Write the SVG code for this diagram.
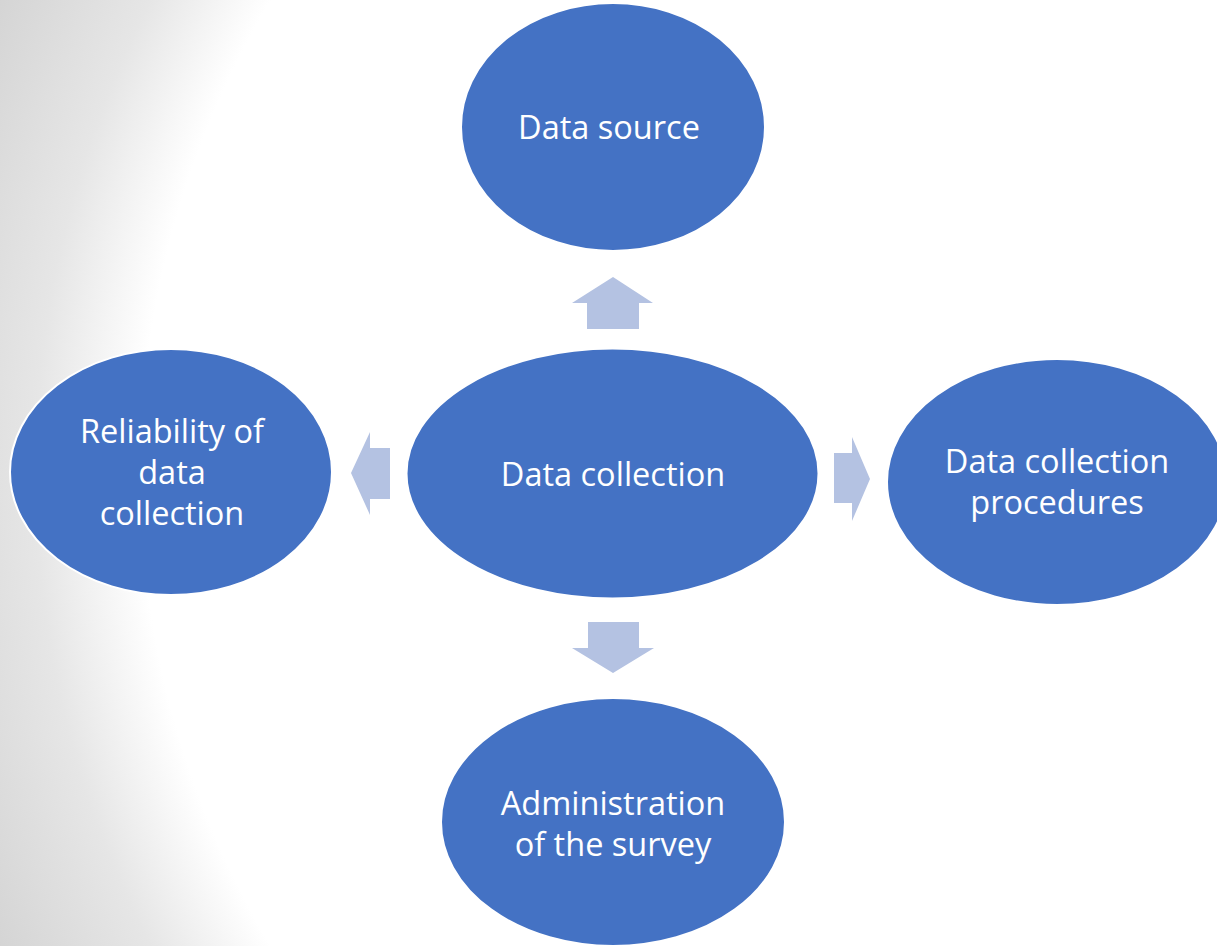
<svg xmlns="http://www.w3.org/2000/svg" width="1217" height="946" viewBox="0 0 1217 946">
<defs>
<radialGradient id="bg" gradientUnits="userSpaceOnUse" cx="1065" cy="473" r="1170">
<stop offset="0" stop-color="#ffffff"/>
<stop offset="0.79" stop-color="#ffffff"/>
<stop offset="0.88" stop-color="#e6e6e6"/>
<stop offset="1" stop-color="#d4d4d4"/>
</radialGradient>
<style>
.node{fill:#4472c4;stroke:#ffffff;stroke-width:2}
.lbl{fill:#ffffff;font-family:"Open Sans","Liberation Sans",sans-serif;font-size:32.5px;text-anchor:middle}
.arr{fill:#b4c2e2}
</style>
</defs>
<rect x="0" y="0" width="1217" height="946" fill="url(#bg)"/>
<g id="connectors">
<polygon class="arr" points="613,277 653,303 639,303 639,329 587,329 587,303 572,303"/>
<polygon class="arr" points="351,473 370,432 370,448 390,448 390,499 370,499 370,515"/>
<polygon class="arr" points="870,479 852,437 852,453 834,453 834,503 852,503 852,521"/>
<polygon class="arr" points="613,673 654,648 639,648 639,622 588,622 588,648 572,648"/>
</g>
<g id="node-source">
<ellipse class="node" cx="613" cy="127" rx="152" ry="124"/>
<text class="lbl" x="609" y="139">Data source</text>
</g>
<g id="node-center">
<ellipse class="node" cx="612.5" cy="473.5" rx="206" ry="125"/>
<text class="lbl" x="613" y="486">Data collection</text>
</g>
<g id="node-reliability">
<ellipse class="node" cx="171" cy="472" rx="161" ry="123"/>
<text class="lbl" x="172" y="443">Reliability of</text>
<text class="lbl" x="172" y="484">data</text>
<text class="lbl" x="172" y="525">collection</text>
</g>
<g id="node-procedures">
<ellipse class="node" cx="1057" cy="482" rx="170" ry="123"/>
<text class="lbl" x="1057" y="473">Data collection</text>
<text class="lbl" x="1057" y="514">procedures</text>
</g>
<g id="node-administration">
<ellipse class="node" cx="613" cy="822" rx="172" ry="124"/>
<text class="lbl" x="613" y="815">Administration</text>
<text class="lbl" x="613" y="856">of the survey</text>
</g>
</svg>
